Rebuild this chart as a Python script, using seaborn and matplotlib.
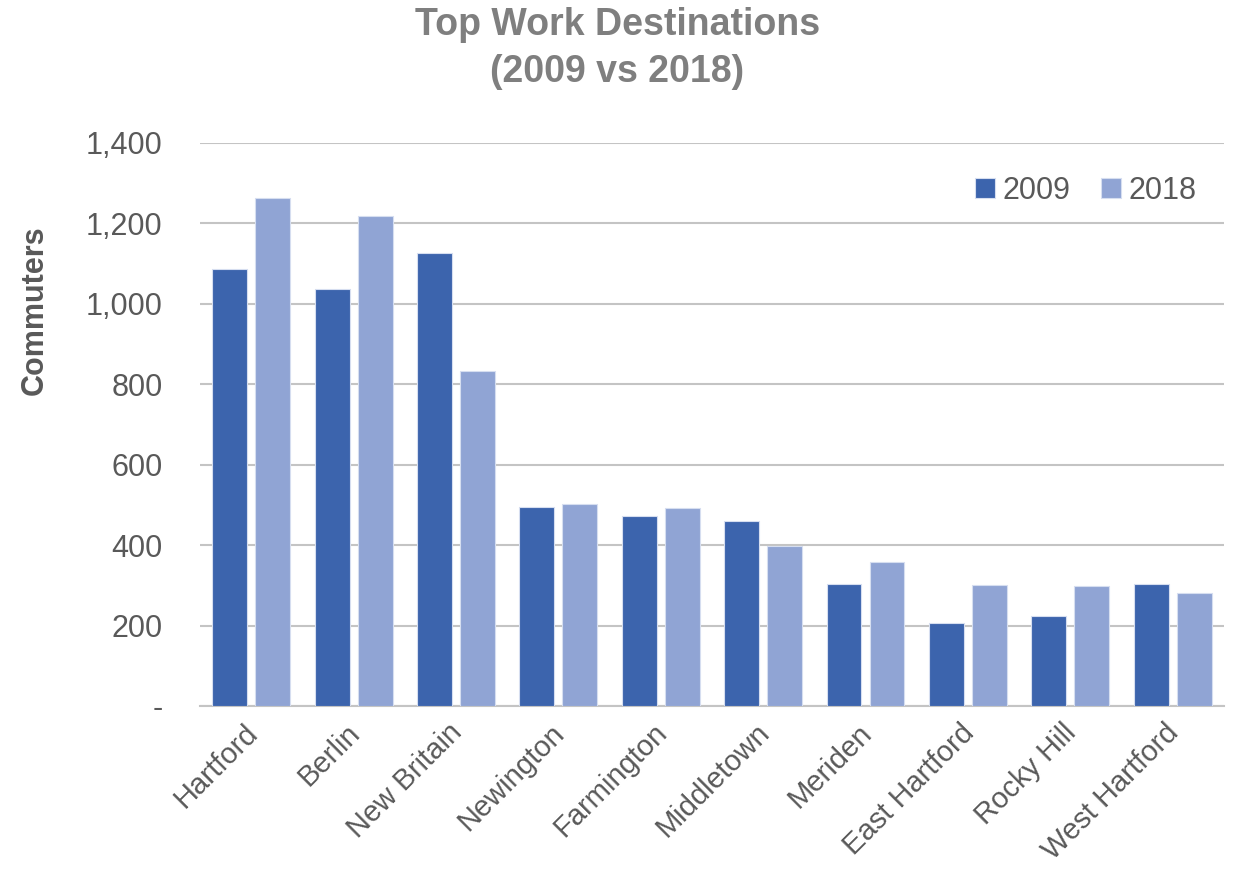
import matplotlib
matplotlib.use("Agg")
import matplotlib.pyplot as plt
import matplotlib.transforms as mtransforms
import seaborn as sns
import pandas as pd

cities = ["Hartford", "Berlin", "New Britain", "Newington", "Farmington",
          "Middletown", "Meriden", "East Hartford", "Rocky Hill", "West Hartford"]
v2009 = [1086, 1036, 1125, 495, 472, 460, 303, 207, 224, 304]
v2018 = [1262, 1218, 834, 501, 493, 398, 357, 300, 298, 282]
years = ["2009", "2018"]
yticks = [0, 200, 400, 600, 800, 1000, 1200, 1400]
ytick_labels = ["-", "200", "400", "600", "800", "1,000", "1,200", "1,400"]

df = pd.DataFrame({
    "City": cities * 2,
    "Year": [years[0]] * len(cities) + [years[1]] * len(cities),
    "Commuters": v2009 + v2018,
})

sns.set_theme(style="white")
plt.rcParams["font.family"] = ["Liberation Sans", "DejaVu Sans"]
text_color = "#595959"

fig = plt.figure(figsize=(12.35, 8.69), dpi=100)
ax = fig.add_axes([0.162, 0.1876, 0.829, 0.648])

palette = {"2009": "#3C64AD", "2018": "#90A4D4"}
sns.barplot(data=df, x="City", y="Commuters", hue="Year", palette=palette,
            width=0.84, gap=0.19, ax=ax, edgecolor="#d6def0", linewidth=0.8,
            saturation=1, zorder=3)

ax.set_ylim(0, 1400)
ax.set_xlim(-0.5, len(cities) - 0.5)
ax.set_yticks(yticks)
ax.set_yticklabels(ytick_labels, fontsize=22, color=text_color)
ax.yaxis.grid(True, color="#c4c4c4", linewidth=1.5, zorder=0)
ax.set_axisbelow(True)
for s in ["top", "right", "left"]:
    ax.spines[s].set_visible(False)
ax.spines["bottom"].set_color("#c4c4c4")
ax.spines["bottom"].set_linewidth(1.5)
ax.tick_params(axis="y", length=0, pad=27)
ax.tick_params(axis="x", length=0, pad=9)

ax.set_xticks(range(len(cities)))
ax.set_xticklabels(cities, rotation=45, ha="right", rotation_mode="anchor",
                   fontsize=21, color=text_color)
shift = mtransforms.ScaledTranslation(-8 / 100, 0, fig.dpi_scale_trans)
for lbl in ax.get_xticklabels():
    lbl.set_transform(lbl.get_transform() + shift)
ax.set_xlabel("")
ax.set_ylabel("")
fig.text(35 / 1235, 1 - 310 / 869, "Commuters", rotation=90, fontsize=22,
         fontweight="bold", color=text_color, ha="center", va="center")

fig.suptitle("Top Work Destinations\n(2009 vs 2018)", fontsize=27, fontweight="bold",
             color="#7f7f7f", y=0.992, linespacing=1.4)

leg = ax.legend(loc="upper right", bbox_to_anchor=(1.0, 0.99), frameon=False,
                fontsize=22, ncol=2, handlelength=0.65, handleheight=0.65,
                handletextpad=0.25, columnspacing=1.0)
for t in leg.get_texts():
    t.set_color(text_color)

fig.savefig("out.png", dpi=100)
